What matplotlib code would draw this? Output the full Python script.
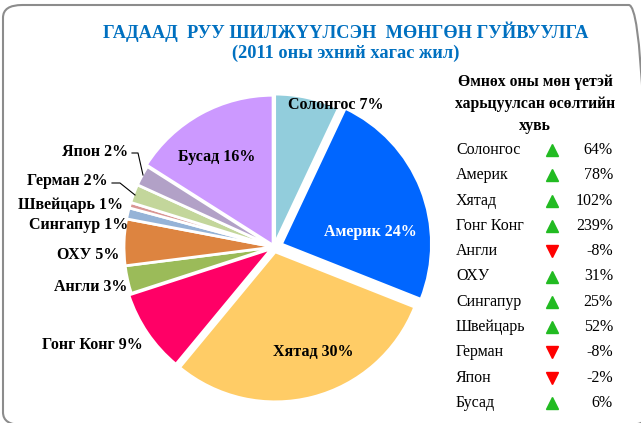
import matplotlib.pyplot as plt
from matplotlib.patches import FancyBboxPatch

# data
countries = ["Солонгос", "Америк", "Хятад", "Гонг Конг", "Англи", "ОХУ",
             "Сингапур", "Швейцарь", "Герман", "Япон", "Бусад"]
shares = [7.0, 24.0, 30.0, 9.0, 3.0, 5.0, 1.2, 0.6, 2.0, 2.2, 16.0]
share_labels = ["7%", "24%", "30%", "9%", "3%", "5%", "1%", "1%", "2%", "2%", "16%"]
growth = [64, 78, 102, 239, -8, 31, 25, 52, -8, -2, 6]

title = "ГАДААД  РУУ ШИЛЖҮҮЛСЭН  МӨНГӨН ГУЙВУУЛГА"
subtitle = "(2011 оны эхний хагас жил)"
table_head = "Өмнөх оны мөн үетэй\nхарьцуулсан өсөлтийн\nхувь"

colors = ["#92CDDC", "#0066FF", "#FFCC66", "#FF0066", "#9BBB59", "#DD8440",
          "#95B3D7", "#D99694", "#C3D69B", "#B2A1C7", "#CC99FF"]
explode = [3, 8, 5, 3, 0, 0, 0, 0, 0, 0, 2]

W, H = 641, 423
fig = plt.figure(figsize=(6.41, 4.23), dpi=100)
ax = fig.add_axes([0, 0, 1, 1])

cx, cy, r = 274, H - 247, 150
wedges, _ = ax.pie(shares, colors=colors, startangle=90, counterclock=False,
                   center=(cx, cy), radius=r, explode=explode,
                   wedgeprops=dict(edgecolor="white", linewidth=2))
ax.set_xlim(0, W)
ax.set_ylim(0, H)
ax.set_aspect("equal")
ax.axis("off")

serif = "Liberation Serif"
lab = dict(family=serif, fontweight="bold", fontsize=11.5)

# labels inside the big slices (pixel positions, y from top)
inside = {0: (336, 105, "black"), 1: (370, 232, "white"),
          2: (313, 352, "black"), 10: (217, 157, "black")}
for i, (x, y, c) in inside.items():
    ax.text(x, H - y, countries[i] + " " + share_labels[i], color=c,
            ha="center", va="center", **lab)

# labels outside, right aligned
outside = {3: (143, 345), 4: (127, 287), 5: (119, 255), 6: (128, 225),
           7: (123, 205), 8: (108, 181), 9: (128, 152)}
for i, (x, y) in outside.items():
    ax.text(x, H - y, countries[i] + " " + share_labels[i], color="black",
            ha="right", va="center", **lab)

# leader lines for Япон and Герман
ax.plot([132, 138, 143], [H - 153, H - 153, H - 175], color="black", lw=0.8)
ax.plot([112, 120, 135], [H - 183, H - 183, H - 195], color="black", lw=0.8)

# title
fig.text(346 / W, 1 - 32 / H, title, ha="center", va="center", color="#0070C0",
         family=serif, fontweight="bold", fontsize=13.2)
fig.text(346 / W, 1 - 53 / H, subtitle, ha="center", va="center", color="#0070C0",
         family=serif, fontweight="bold", fontsize=13.2)

# growth table
ax.text(535, H - 104, table_head, ha="center", va="center", family=serif,
        fontweight="bold", fontsize=11.3, linespacing=1.5)
row_y0, row_dy = 150, 25.3
for k, (name, g) in enumerate(zip(countries, growth)):
    y = H - (row_y0 + k * row_dy)
    ax.text(456, y, name, ha="left", va="center", family=serif, fontsize=11.5)
    if g >= 0:
        ax.plot(552, y, marker="^", color="#22BB22", markersize=8.5, linestyle="none")
    else:
        ax.plot(552, y, marker="v", color="#FF0000", markersize=8.5, linestyle="none")
    ax.text(613, y, f"{g}%", ha="right", va="center", family=serif, fontsize=11.5)

# rounded border, right and bottom edges fall outside the image
box = FancyBboxPatch((3 / W, -2 / H), 645 / W, 420 / H,
                     boxstyle="round,pad=0,rounding_size=0.03",
                     transform=fig.transFigure, facecolor="none",
                     edgecolor="#8C8C8C", linewidth=1.5)
fig.patches.append(box)

fig.savefig("out.png", dpi=100)
